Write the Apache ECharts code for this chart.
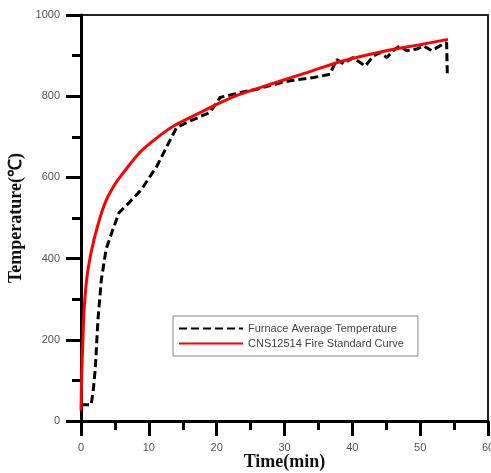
<!DOCTYPE html>
<html>
<head>
<meta charset="utf-8">
<script src="https://cdn.jsdelivr.net/npm/echarts@6/dist/echarts.min.js"></script>
<style>
html,body{margin:0;padding:0;background:#fff;}
#chart{width:491px;height:473px;}
</style>
</head>
<body>
<div id="chart"></div>
<script>
// Furnace average temperature (black dashed)
const furnaceTime = [0, 1.5, 1.8, 2.1, 2.5, 3.0, 3.7, 4.7, 5.6, 7.1, 8.9, 11.2, 13.2, 14.1, 16.1, 19.0, 20.0, 20.5, 23.5, 25.9, 28.4, 30.8, 34.3, 36.7, 37.7, 38.7, 40.1, 41.9, 43.1, 44.1, 45.1, 46.0, 47.0, 48.0, 49.5, 50.5, 51.7, 52.9, 53.9, 54.0];
const furnaceTemp = [40, 40, 75, 127, 250, 348, 423, 472, 513, 538, 570, 628, 694, 723, 739, 760, 784, 797, 809, 817, 829, 838, 846, 854, 890, 880, 895, 874, 899, 907, 895, 912, 924, 912, 916, 924, 912, 924, 932, 854];
// CNS12514 fire standard curve (red)
const standardTime = [0, 0.1, 0.3, 0.5, 1, 2, 3.5, 5, 6.4, 8.7, 11, 13.6, 18.6, 20, 23.5, 28.4, 33.3, 38.2, 45, 50, 54.1];
const standardTemp = [26, 110, 209, 285, 370, 452, 535, 583, 615, 662, 695, 726, 768, 780, 805, 832, 858, 885, 912, 927, 940];
// Axis ticks
const xTicks = { min: 0, max: 60, interval: 10 };
const yTicks = { min: 0, max: 1000, interval: 200 };
const seriesNames = ['Furnace Average Temperature', 'CNS12514 Fire Standard Curve'];

const furnaceData = furnaceTime.map((t, i) => [t, furnaceTemp[i]]);
const standardData = standardTime.map((t, i) => [t, standardTemp[i]]);

const chart = echarts.init(document.getElementById('chart'), null, { renderer: 'canvas' });
const labelStyle = { color: '#555', fontSize: 11, fontFamily: 'Liberation Sans, Arial, sans-serif', formatter: v => String(v) };
const nameStyle = { color: '#111', fontSize: 18, fontWeight: 'bold', fontFamily: 'Liberation Serif, Times New Roman, serif' };

chart.setOption({
  animation: false,
  backgroundColor: '#fff',
  grid: { left: 81, right: 3, top: 15, bottom: 52, containLabel: false, outerBoundsMode: 'none', show: true, borderColor: '#222', borderWidth: 2, backgroundColor: 'transparent' },
  legend: {
    data: seriesNames,
    orient: 'vertical',
    left: 173,
    top: 316,
    padding: [7, 14, 7, 5],
    itemWidth: 64,
    itemHeight: 11,
    itemGap: 4,
    backgroundColor: '#fff',
    borderColor: '#888',
    borderWidth: 1,
    borderRadius: 0,
    itemStyle: { opacity: 0 },
    textStyle: { color: '#444', fontSize: 11, lineHeight: 11, fontFamily: 'Liberation Sans, Arial, sans-serif' }
  },
  xAxis: {
    type: 'value',
    min: xTicks.min, max: xTicks.max, interval: xTicks.interval,
    name: 'Time(min)',
    nameLocation: 'middle',
    nameGap: 32,
    nameMoveOverlap: false,
    nameTextStyle: nameStyle,
    axisLine: { show: true, onZero: false, lineStyle: { color: '#000', width: 3 } },
    axisTick: { show: true, inside: false, length: 15, lineStyle: { color: '#000', width: 3 } },
    minorTick: { show: true, splitNumber: 2, length: 9, lineStyle: { color: '#000', width: 3 } },
    axisLabel: Object.assign({ margin: 21 }, labelStyle),
    splitLine: { show: false }
  },
  yAxis: {
    type: 'value',
    min: yTicks.min, max: yTicks.max, interval: yTicks.interval,
    name: 'Temperature(℃)',
    nameLocation: 'middle',
    nameGap: 56,
    nameMoveOverlap: false,
    nameTextStyle: nameStyle,
    axisLine: { show: true, onZero: false, lineStyle: { color: '#000', width: 3 } },
    axisTick: { show: true, inside: false, length: 15, lineStyle: { color: '#000', width: 3 } },
    minorTick: { show: true, splitNumber: 2, length: 9, lineStyle: { color: '#000', width: 3 } },
    axisLabel: Object.assign({ margin: 21 }, labelStyle),
    splitLine: { show: false }
  },
  series: [
    {
      name: seriesNames[0],
      type: 'line',
      data: furnaceData,
      showSymbol: false,
      symbol: 'none',
      lineStyle: { color: '#000', width: 3, type: [8, 4] },
      itemStyle: { color: '#000' },
      z: 2
    },
    {
      name: seriesNames[1],
      type: 'line',
      data: standardData,
      smooth: 0.3,
      showSymbol: false,
      symbol: 'none',
      lineStyle: { color: '#ff0000', width: 3 },
      itemStyle: { color: '#ff0000' },
      z: 3
    }
  ]
});
</script>
</body>
</html>
